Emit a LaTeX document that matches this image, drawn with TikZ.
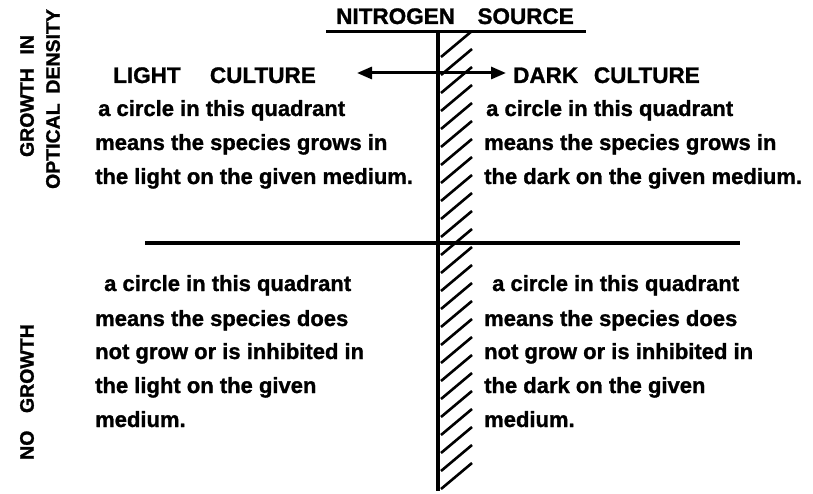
\documentclass[tikz,border=0pt]{standalone}
\usepackage{fontspec}
\setmainfont[BoldFeatures={FakeBold=1.2}]{Liberation Sans}
\usetikzlibrary{arrows.meta}
\begin{document}
\begin{tikzpicture}[x=1pt,y=-1pt,
  caps/.style={inner sep=0pt,font=\bfseries\fontsize{22.5}{22.5}\selectfont},
  body/.style={inner sep=0pt,anchor=base west,font=\bfseries\fontsize{22}{22}\selectfont},
  side/.style={inner sep=0pt,rotate=90,anchor=center,font=\bfseries\fontsize{19.5}{20}\selectfont},
  rule/.style={line width=3.8pt},
  hatchline/.style={line width=2.6pt},
  arr/.style={line width=3pt,-{Triangle[length=15pt,width=12pt]}}]
\useasboundingbox (0,0) rectangle (813,494);
% title
\node[caps,anchor=base] (title) at (455,24) {NITROGEN\hspace{1.0em}SOURCE};
\coordinate (ulL) at (326,32);
\coordinate (ulR) at (586,32);
\draw[line width=3pt] (ulL) -- (ulR);
% main axes
\coordinate (vtop) at (438,32);
\coordinate (vbot) at (438,491);
\coordinate (hL) at (145,243);
\coordinate (hR) at (740,243);
\draw[rule] (vtop) -- (vbot);
\draw[rule] (hL) -- (hR);
% hatching
\foreach \i in {0,...,24}{
  \draw[hatchline] (441,{57+18*\i}) -- (472,{31+18*\i});
}
% culture labels and arrows
\node[caps,anchor=base west] (light) at (113,83) {LIGHT\hspace{1.3em}CULTURE};
\node[caps,anchor=base west] (dark) at (513,83) {DARK\hspace{0.7em}CULTURE};
\coordinate (aorig) at (438,73);
\coordinate (atipL) at (357,73);
\coordinate (atipR) at (506,73);
\draw[arr] (aorig) -- (atipL);
\draw[arr] (aorig) -- (atipR);
% side labels
\node[side] (g1) at (27,96) {GROWTH\hspace{0.7em}IN};
\node[side] (g2) at (53,99) {OPTICAL\hspace{0.5em}DENSITY};
\node[side] (g3) at (27,392) {NO\hspace{0.9em}GROWTH};
% upper left
\node[body] (ul1) at (98,116) {a circle in this quadrant};
\node[body] (ul2) at (95,150) {means the species grows in};
\node[body] (ul3) at (95,184) {the light on the given medium.};
% upper right
\node[body] (ur1) at (486,116) {a circle in this quadrant};
\node[body] (ur2) at (484,150) {means the species grows in};
\node[body] (ur3) at (484,184) {the dark on the given medium.};
% lower left
\node[body] (ll1) at (104,291) {a circle in this quadrant};
\node[body] (ll2) at (95,326) {means the species does};
\node[body] (ll3) at (95,359) {not grow or is inhibited in};
\node[body] (ll4) at (95,393) {the light on the given};
\node[body] (ll5) at (95,427) {medium.};
% lower right
\node[body] (lr1) at (492,291) {a circle in this quadrant};
\node[body] (lr2) at (484,326) {means the species does};
\node[body] (lr3) at (484,359) {not grow or is inhibited in};
\node[body] (lr4) at (484,393) {the dark on the given};
\node[body] (lr5) at (484,427) {medium.};
\end{tikzpicture}
\end{document}
